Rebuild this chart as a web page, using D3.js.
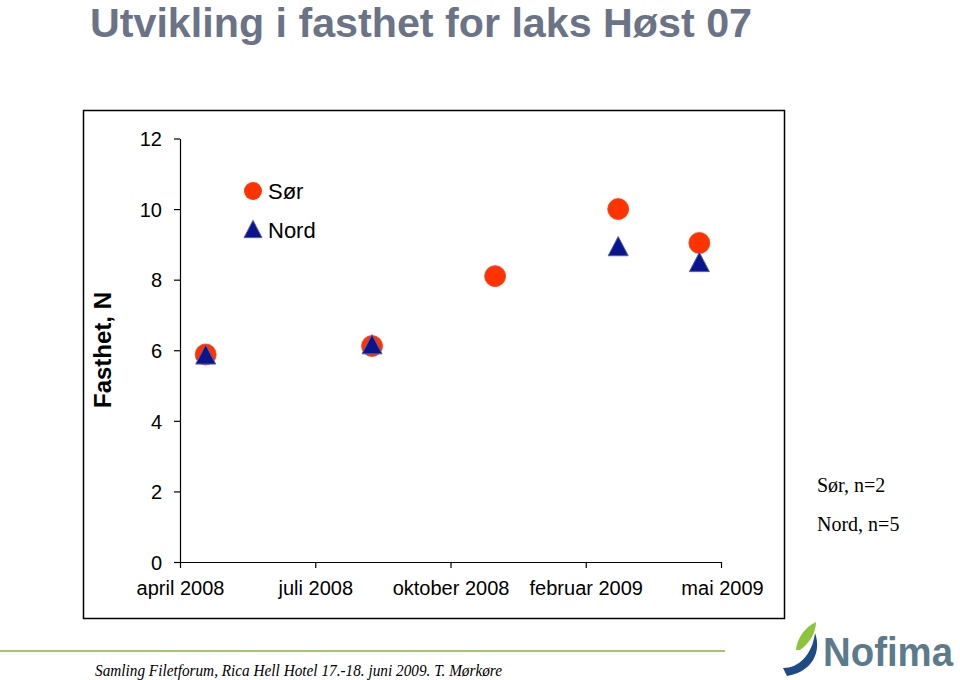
<!DOCTYPE html>
<html><head><meta charset="utf-8">
<script src="https://cdn.jsdelivr.net/npm/d3@7"></script>
<style>html,body{margin:0;padding:0;background:#fff;}svg{display:block;}</style>
</head><body>
<svg id="c" width="960" height="680"></svg>
<script>
const categories = ["april 2008", "juli 2008", "oktober 2008", "februar 2009", "mai 2009"];
const yTicks = [0, 2, 4, 6, 8, 10, 12];
// sampling time on the category axis (in category units) and values
const sorX = [0.19, 1.42, 2.33, 3.24, 3.84];
const sorY = [5.88, 6.12, 8.1, 10.0, 9.04];
const nordX = [0.19, 1.42, null, 3.24, 3.84];
const nordY = [5.88, 6.17, null, 8.95, 8.5];
const seriesNames = ["Sør", "Nord"];
const notes = ["Sør, n=2", "Nord, n=5"];

const svg = d3.select("#c");
const x = d3.scaleLinear().domain([0, 4]).range([180, 721]);
const y = d3.scaleLinear().domain([0, 12]).range([562, 138.5]);

// title
svg.append("text").attr("x", 90).attr("y", 37)
  .attr("font-family", "Liberation Sans, Arial, sans-serif").attr("font-weight", "bold")
  .attr("font-size", 41).attr("fill", "#6b7386")
  .attr("textLength", 662).attr("lengthAdjust", "spacingAndGlyphs")
  .text("Utvikling i fasthet for laks Høst 07");

// frame
svg.append("rect").attr("x", 83.5).attr("y", 110.5).attr("width", 701).attr("height", 508)
  .attr("fill", "none").attr("stroke", "#000").attr("stroke-width", 1.5);

const font = "Liberation Sans, Arial, sans-serif";

// y axis
const yAxis = svg.append("g").attr("transform", "translate(180,0)")
  .call(d3.axisLeft(y).tickValues(yTicks).tickSize(6).tickPadding(12).tickSizeOuter(0));
yAxis.select(".domain").attr("stroke", "#000").attr("stroke-width", 1.2);
yAxis.selectAll(".tick line").attr("stroke", "#000").attr("stroke-width", 1.2);
yAxis.selectAll(".tick text").attr("font-family", font).attr("font-size", 20).attr("fill", "#000").attr("dy", "0.36em");

// x axis
const xAxis = svg.append("g").attr("transform", `translate(0,${y(0)})`)
  .call(d3.axisBottom(x).tickValues(d3.range(categories.length)).tickFormat(i => categories[i])
    .tickSize(6).tickPadding(13).tickSizeOuter(0));
xAxis.select(".domain").attr("stroke", "#000").attr("stroke-width", 1.2);
xAxis.selectAll(".tick line").attr("stroke", "#000").attr("stroke-width", 1.2);
xAxis.selectAll(".tick text").attr("font-family", font).attr("font-size", 20).attr("fill", "#000")
  .attr("dx", (d, i) => i === 4 ? 1 : 0);

// y title
svg.append("text").attr("transform", "translate(111,350) rotate(-90)")
  .attr("text-anchor", "middle").attr("font-family", font).attr("font-weight", "bold")
  .attr("font-size", 24).attr("fill", "#000").text("Fasthet, N");

const tri = (cx, cy, s) => `M${cx},${cy - s * 0.48}L${cx + s / 2},${cy + s * 0.48}L${cx - s / 2},${cy + s * 0.48}Z`;

const sor = sorX.map((d, i) => ({x: d, y: sorY[i]}));
const nord = nordX.map((d, i) => ({x: d, y: nordY[i]})).filter(d => d.x != null);

svg.append("g").selectAll("circle").data(sor).join("circle")
  .attr("cx", d => x(d.x)).attr("cy", d => y(d.y)).attr("r", 10.5)
  .attr("fill", "#ff3300").attr("stroke", "#f04020").attr("stroke-width", 0.8);
svg.append("g").selectAll("path").data(nord).join("path")
  .attr("d", d => tri(x(d.x), y(d.y), 20))
  .attr("fill", "#0a148c").attr("stroke", "#5060b0").attr("stroke-width", 1);

// legend
svg.append("circle").attr("cx", 253).attr("cy", 191).attr("r", 9).attr("fill", "#ff3300");
svg.append("path").attr("d", tri(253, 229, 18)).attr("fill", "#0a148c").attr("stroke", "#5060b0");
svg.append("text").attr("x", 268).attr("y", 199).attr("font-family", font).attr("font-size", 22).text(seriesNames[0]);
svg.append("text").attr("x", 268).attr("y", 238).attr("font-family", font).attr("font-size", 22).text(seriesNames[1]);

// notes
svg.selectAll("text.note").data(notes).join("text").attr("class", "note")
  .attr("x", 817).attr("y", (d, i) => 492 + i * 39)
  .attr("font-family", "Liberation Serif, Times New Roman, serif").attr("font-size", 20).attr("fill", "#000")
  .text(d => d);

// footer
svg.append("line").attr("x1", 0).attr("x2", 725).attr("y1", 651).attr("y2", 651)
  .attr("stroke", "#a8c46e").attr("stroke-width", 2);
svg.append("text").attr("x", 95).attr("y", 676)
  .attr("font-family", "Liberation Serif, Times New Roman, serif").attr("font-style", "italic")
  .attr("font-size", 17).attr("textLength", 407).attr("lengthAdjust", "spacingAndGlyphs")
  .text("Samling Filetforum, Rica Hell Hotel 17.-18. juni 2009. T. Mørkøre");

// logo
svg.append("path").attr("d", "M796,650 C797,638 805,627 816,622 C816,632 810,643 800,650 Z").attr("fill", "#8cc43c");
svg.append("path").attr("d", "M783,668 C799,668 812,655 815,633 C822,652 812,672 787,676 Z").attr("fill", "#1e4a86");
svg.append("text").attr("x", 823).attr("y", 666).attr("font-family", font).attr("font-weight", "bold")
  .attr("font-size", 40).attr("fill", "#5b7b8c").attr("textLength", 130).attr("lengthAdjust", "spacingAndGlyphs")
  .text("Nofima");
</script>
</body></html>
